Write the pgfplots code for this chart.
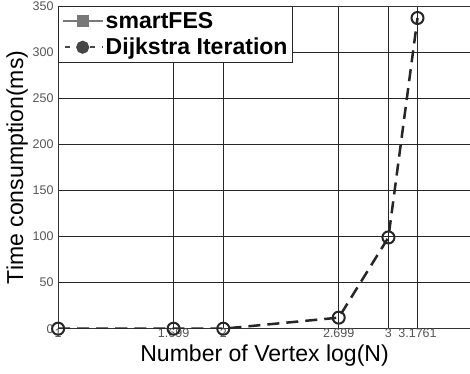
\documentclass[border=0pt]{standalone}
\usepackage{pgfplots}
\pgfplotsset{compat=1.18}
\usepackage{fontspec}
\setmainfont{Liberation Sans}
\definecolor{tickgray}{RGB}{85,85,85}
\definecolor{fesgray}{RGB}{120,120,120}
\definecolor{dotgray}{RGB}{70,70,70}
\begin{document}
\begin{tikzpicture}
\useasboundingbox (-58pt,-45pt) rectangle (411pt,328pt);
\begin{axis}[
  scale only axis,
  width=412pt, height=322pt,
  xmin=1, xmax=3.5,
  ymin=0, ymax=350,
  xtick={1,1.699,2,2.699,3,3.1761},
  xticklabels={1,1.699,2,2.699,3,3.1761},
  ytick={0,50,100,150,200,250,300,350},
  grid=major,
  major grid style={black!85, line width=0.8pt},
  axis line style={black!80, line width=1pt},
  tick style={draw=none},
  ticklabel style={font=\fontsize{12.5}{14}\selectfont, text=tickgray},
  /pgf/number format/assume math mode=true,
  xticklabel style={yshift=3pt},
  yticklabel style={xshift=-1pt},
  xlabel={Number of Vertex log(N)},
  ylabel={Time consumption(ms)},
  label style={font=\fontsize{23}{26}\selectfont},
  xlabel style={yshift=0pt},
  ylabel style={yshift=-2pt},
  legend style={at={(0,1)}, anchor=north west,
    font=\bfseries\fontsize{23}{27}\selectfont,
    draw=black!85, line width=1pt, inner xsep=3pt, inner ysep=4pt,
    row sep=4pt, fill=white},
  legend cell align=left,
  legend image code/.code={%
    \draw[mark repeat=2, mark phase=2, #1]
      plot coordinates {(0pt,0pt) (20pt,0pt) (40pt,0pt)};},
]
\addlegendimage{fesgray, line width=2pt, mark=square*, mark size=5pt, mark options={solid, fill=fesgray}}
\addlegendentry{smartFES}
\addplot[black!85, line width=2.5pt, dash pattern=on 12pt off 7pt,
  mark=o, mark size=6pt, mark options={solid, line width=2pt},
  forget plot]
  coordinates {(1,0) (1.699,0) (2,0) (2.699,12) (3,99) (3.1761,337)};
\addlegendimage{dotgray, line width=2pt, dash pattern=on 5pt off 7.5pt, dash phase=-2pt, mark=*, mark size=5.5pt, mark options={solid, fill=dotgray}}
\addlegendentry{Dijkstra Iteration}
\end{axis}
\end{tikzpicture}
\end{document}
